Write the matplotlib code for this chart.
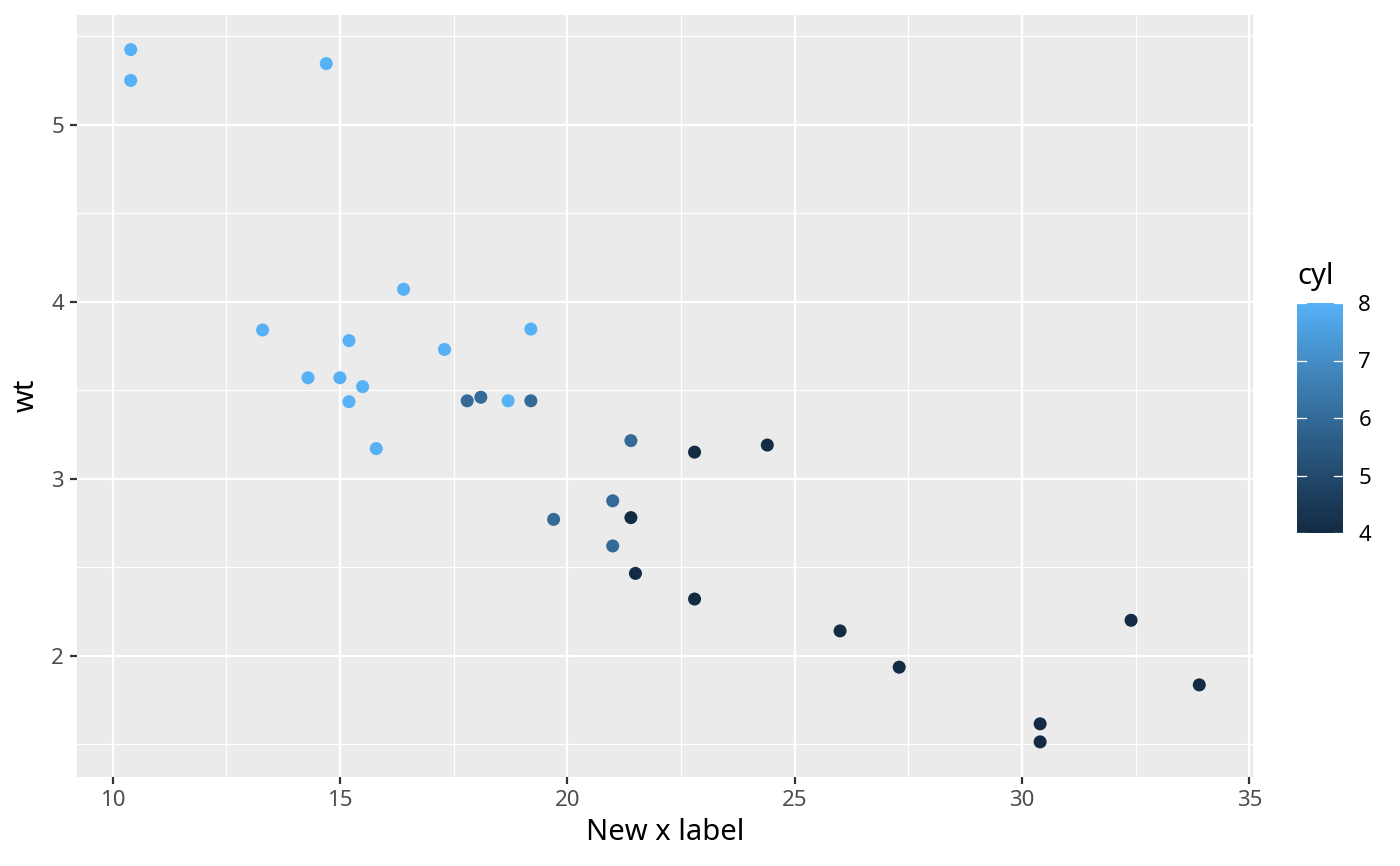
import numpy as np
import matplotlib
matplotlib.use("Agg")
import matplotlib.pyplot as plt
from matplotlib.colors import ListedColormap, Normalize
from matplotlib.ticker import MultipleLocator

mpg = [21.0, 21.0, 22.8, 21.4, 18.7, 18.1, 14.3, 24.4, 22.8, 19.2, 17.8, 16.4, 17.3, 15.2,
       10.4, 10.4, 14.7, 32.4, 30.4, 33.9, 21.5, 15.5, 15.2, 13.3, 19.2, 27.3, 26.0, 30.4,
       15.8, 19.7, 15.0, 21.4]
wt = [2.620, 2.875, 2.320, 3.215, 3.440, 3.460, 3.570, 3.190, 3.150, 3.440, 3.440, 4.070,
      3.730, 3.780, 5.250, 5.424, 5.345, 2.200, 1.615, 1.835, 2.465, 3.520, 3.435, 3.840,
      3.845, 1.935, 2.140, 1.513, 3.170, 2.770, 3.570, 2.780]
cyl = [6, 6, 4, 6, 8, 6, 8, 4, 4, 6, 6, 8, 8, 8, 8, 8, 8, 4, 4, 4, 4, 8, 8, 8, 8, 4, 4, 4,
       8, 6, 8, 4]
x_ticks = [10, 15, 20, 25, 30, 35]
y_ticks = [2, 3, 4, 5]
cbar_ticks = [4, 5, 6, 7, 8]

# ---- ggplot2-like seq gradient (#132B43 -> #56B1F7) interpolated in Lab ----
def hex2rgb(h):
    h = h.lstrip('#')
    return np.array([int(h[i:i + 2], 16) / 255 for i in (0, 2, 4)])

def srgb2lin(c):
    return np.where(c <= 0.04045, c / 12.92, ((c + 0.055) / 1.055) ** 2.4)

def lin2srgb(c):
    c = np.clip(c, 0, 1)
    return np.where(c <= 0.0031308, 12.92 * c, 1.055 * c ** (1 / 2.4) - 0.055)

M = np.array([[0.4124, 0.3576, 0.1805], [0.2126, 0.7152, 0.0722], [0.0193, 0.1192, 0.9505]])
Minv = np.linalg.inv(M)
WP = np.array([0.95047, 1.0, 1.08883])

def f(t):
    d = 6 / 29
    return np.where(t > d ** 3, np.cbrt(t), t / (3 * d * d) + 4 / 29)

def finv(t):
    d = 6 / 29
    return np.where(t > d, t ** 3, 3 * d * d * (t - 4 / 29))

def rgb2lab(rgb):
    xyz = M @ srgb2lin(rgb) / WP
    fx, fy, fz = f(xyz)
    return np.array([116 * fy - 16, 500 * (fx - fy), 200 * (fy - fz)])

def lab2rgb(lab):
    L, a, b = lab
    fy = (L + 16) / 116
    fx = fy + a / 500
    fz = fy - b / 200
    xyz = np.array([finv(fx), finv(fy), finv(fz)]) * WP
    return lin2srgb(Minv @ xyz)

lo, hi = rgb2lab(hex2rgb('#132B43')), rgb2lab(hex2rgb('#56B1F7'))
cols = [lab2rgb(lo + (hi - lo) * t) for t in np.linspace(0, 1, 256)]
cmap = ListedColormap(cols)
norm = Normalize(vmin=4, vmax=8)

plt.rcParams['font.family'] = ['Noto Sans', 'DejaVu Sans']

fig = plt.figure(figsize=(14, 8.66), dpi=100)
ax = fig.add_axes([77.3 / 1400, (866 - 776.5) / 866, (1252.7 - 77.3) / 1400, (776.5 - 15) / 866])
ax.set_facecolor('#EBEBEB')
ax.scatter(mpg, wt, c=cyl, cmap=cmap, norm=norm, s=88, linewidths=0, zorder=3)

ax.set_xlim(9.225, 35.075)
ax.set_ylim(1.31745, 5.61955)
ax.set_xticks(x_ticks)
ax.set_yticks(y_ticks)
ax.xaxis.set_minor_locator(MultipleLocator(2.5))
ax.yaxis.set_minor_locator(MultipleLocator(0.5))
ax.grid(which='major', color='white', linewidth=1.6, zorder=1)
ax.grid(which='minor', color='white', linewidth=0.8, zorder=1)
ax.set_axisbelow(True)
for s in ax.spines.values():
    s.set_visible(False)
ax.tick_params(which='major', length=5.2, width=1.6, color='#333333', labelsize=16,
               labelcolor='#4D4D4D', pad=4.5)
ax.tick_params(which='minor', length=0)
ax.set_xlabel('New x label', fontsize=21, color='black', labelpad=5)
ax.set_ylabel('wt', fontsize=21, color='black', labelpad=7.5)

cax = fig.add_axes([1297 / 1400, (866 - 533) / 866, 46 / 1400, 230 / 866])
cb = fig.colorbar(plt.cm.ScalarMappable(norm=norm, cmap=cmap), cax=cax, ticks=cbar_ticks)
cb.outline.set_visible(False)
cax.tick_params(length=0, labelsize=16, labelcolor='black', pad=11)
for t in cbar_ticks:
    cax.plot([0, 0.2], [t, t], color='white', lw=0.9, transform=cax.get_yaxis_transform())
    cax.plot([0.8, 1.0], [t, t], color='white', lw=0.9, transform=cax.get_yaxis_transform())
fig.text(1297 / 1400, 1 - 284 / 866, 'cyl', fontsize=21, ha='left', va='baseline')

fig.savefig('out.png', dpi=100)
